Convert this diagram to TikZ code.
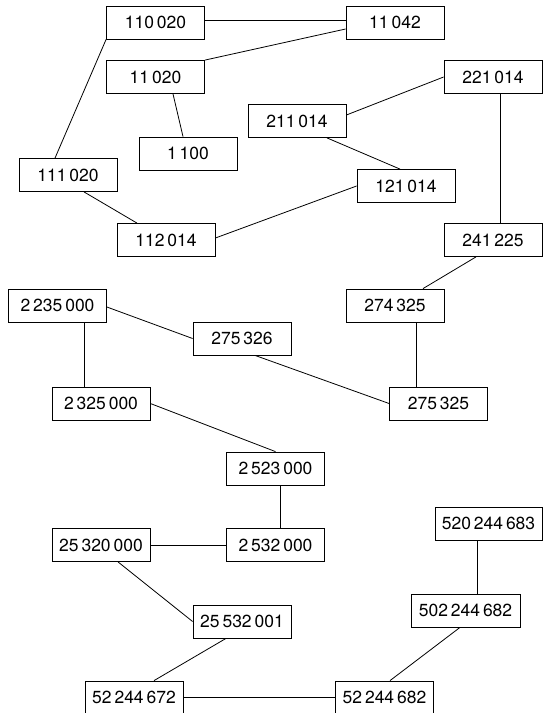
\documentclass[tikz,border=0pt]{standalone}
\usepackage{fontspec}
\setmainfont{TeX Gyre Heros}
\begin{document}
\begin{tikzpicture}[x=1pt,y=-1pt,
  box/.style={draw,line width=0.8pt,minimum width=98pt,minimum height=33pt,inner sep=0pt,font=\fontsize{17.5}{20}\selectfont},
  wbox/.style={box,minimum width=107pt},
  link/.style={line width=0.8pt}]
\useasboundingbox (0,0) rectangle (544,713);
\node[box] (a) at (155.5,22.5) {110\,020};
\node[box] (b) at (395,22.5) {11\,042};
\node[box] (c) at (155.5,77) {11\,020};
\node[box] (d) at (493,77) {221\,014};
\node[box] (e) at (297,121) {211\,014};
\node[box] (f) at (188,153.5) {1\,100};
\node[box] (g) at (68,175) {111\,020};
\node[box] (h) at (406,186) {121\,014};
\node[box] (i) at (166,240) {112\,014};
\node[box] (j) at (493,240) {241\,225};
\node[box] (k) at (57.5,305.5) {2\,235\,000};
\node[box] (l) at (395,305.5) {274\,325};
\node[box] (m) at (242,338.5) {275\,326};
\node[box] (n) at (101,403.5) {2\,325\,000};
\node[box] (o) at (438.5,403.5) {275\,325};
\node[box] (p) at (275.5,468.5) {2\,523\,000};
\node[wbox] (q) at (488.5,523.5) {520\,244\,683};
\node[box] (r) at (101,545) {25\,320\,000};
\node[box] (s) at (275.5,545) {2\,532\,000};
\node[wbox,minimum width=109pt] (t) at (465.5,610.5) {502\,244\,682};
\node[box] (u) at (242,621.5) {25\,532\,001};
\node[box] (v) at (134,697.5) {52\,244\,672};
\node[box] (w) at (384.5,697.5) {52\,244\,682};
\draw[link] ([yshift=2.5pt]a.east) -- ([yshift=2.5pt]b.west);
\draw[link] (c.north east) -- ([yshift=-6.5pt]b.west);
\draw[link] (a.south west) -- ([xshift=-13pt]g.north);
\draw[link] ([xshift=17.5pt]c.south) -- ([xshift=-5pt]f.north);
\draw[link] ([xshift=16pt]g.south) -- ([xshift=-29pt]i.north);
\draw[link] ([yshift=2pt]i.east) -- (h.west);
\draw[link] ([yshift=6pt]e.east) -- (d.west);
\draw[link] ([xshift=30pt]e.south) -- ([xshift=-6pt]h.north);
\draw[link] ([xshift=7pt]d.south) -- ([xshift=7pt]j.north);
\draw[link] ([xshift=-17pt]j.south) -- ([xshift=28pt]l.north);
\draw[link] ([xshift=21pt]l.south) -- ([xshift=-22.5pt]o.north);
\draw[link] ([yshift=-1.5pt]k.east) -- (m.west);
\draw[link] ([xshift=26.5pt]k.south) -- ([xshift=-17pt]n.north);
\draw[link] ([xshift=13pt]m.south) -- (o.west);
\draw[link] (n.east) -- (p.north);
\draw[link] ([xshift=4.5pt]p.south) -- ([xshift=4.5pt]s.north);
\draw[link] (r.east) -- (s.west);
\draw[link] ([xshift=17pt]r.south) -- (u.west);
\draw[link] ([xshift=-16pt]u.south) -- ([xshift=20pt]v.north);
\draw[link] (v.east) -- (w.west);
\draw[link] ([xshift=-11.5pt]q.south) -- ([xshift=11.5pt]t.north);
\draw[link] ([xshift=-5.5pt]t.south) -- ([xshift=5.5pt]w.north);
\end{tikzpicture}
\end{document}
